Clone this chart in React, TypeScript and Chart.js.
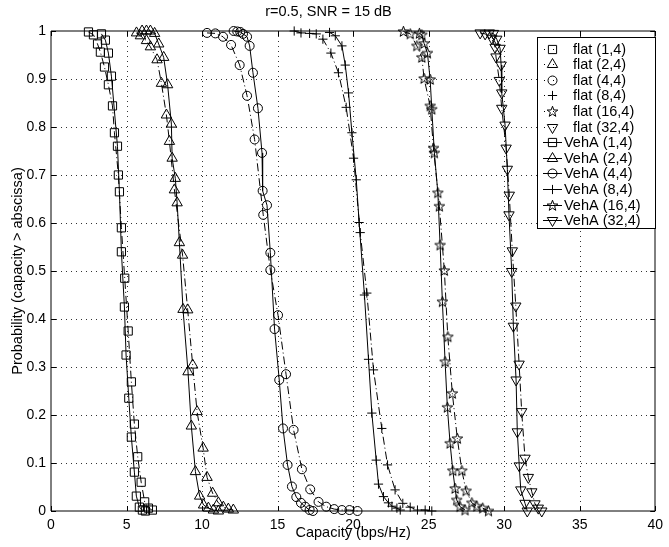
import React, { useEffect, useRef } from 'react';
import { Chart, registerables } from 'chart.js';

Chart.register(...registerables);

const titleText = 'r=0.5, SNR = 15 dB';
const xTitle = 'Capacity (bps/Hz)';
const yTitle = 'Probability (capacity > abscissa)';
const xTickLabels = ['0', '5', '10', '15', '20', '25', '30', '35', '40'];
const yTickLabels = ['0', '0.1', '0.2', '0.3', '0.4', '0.5', '0.6', '0.7', '0.8', '0.9', '1'];

const flatLabels = ['flat (1,4)', 'flat (2,4)', 'flat (4,4)', 'flat (8,4)', 'flat (16,4)', 'flat (32,4)'];
const vehLabels = ['VehA (1,4)', 'VehA (2,4)', 'VehA (4,4)', 'VehA (8,4)', 'VehA (16,4)', 'VehA (32,4)'];

// flat (1,4)
const flat1Cap = [2.48, 2.81, 3.08, 3.27, 3.54, 3.80, 4.07, 4.20, 4.46, 4.66, 4.88, 5.11, 5.32, 5.52, 5.74, 5.97, 6.20, 6.45, 6.71];
const flat1Prob = [0.998, 0.992, 0.973, 0.956, 0.925, 0.888, 0.844, 0.788, 0.700, 0.590, 0.485, 0.375, 0.269, 0.181, 0.113, 0.060, 0.019, 0.006, 0.002];
// VehA (1,4)
const veh1Cap = [3.34, 3.60, 3.80, 4.00, 4.40, 4.53, 4.66, 4.86, 4.97, 5.15, 5.32, 5.52, 5.65, 5.85, 6.05, 6.25];
const veh1Prob = [0.994, 0.981, 0.954, 0.906, 0.760, 0.665, 0.540, 0.425, 0.325, 0.235, 0.154, 0.081, 0.031, 0.008, 0.002, 0.0];

// flat (2,4)
const flat2Cap = [5.66, 5.92, 6.32, 6.58, 7.02, 7.31, 7.64, 7.84, 8.17, 8.71, 9.05, 9.38, 9.67, 10.07, 10.33, 10.70, 11.08, 11.41, 11.74, 12.07];
const flat2Prob = [0.996, 0.990, 0.980, 0.967, 0.940, 0.891, 0.825, 0.770, 0.669, 0.533, 0.419, 0.304, 0.207, 0.131, 0.070, 0.037, 0.017, 0.008, 0.004, 0.002];
// VehA (2,4)
const veh2Cap = [6.03, 6.32, 6.58, 6.86, 7.13, 7.46, 7.72, 7.97, 8.02, 8.23, 8.35, 8.50, 8.74, 9.07, 9.29, 9.56, 9.84, 10.10, 10.42, 10.75, 11.08];
const veh2Prob = [1.0, 1.0, 1.0, 0.995, 0.973, 0.945, 0.888, 0.806, 0.735, 0.693, 0.642, 0.559, 0.420, 0.290, 0.177, 0.082, 0.031, 0.0125, 0.006, 0.002, 0.0];

// flat (4,4)
const flat4Cap = [10.33, 10.88, 11.39, 11.92, 12.49, 12.98, 13.48, 14.05, 14.52, 15.03, 15.56, 16.06, 16.61, 17.16, 17.71, 18.22, 18.75, 19.26, 19.76, 20.29];
const flat4Prob = [0.996, 0.995, 0.988, 0.971, 0.929, 0.865, 0.774, 0.617, 0.502, 0.408, 0.285, 0.169, 0.087, 0.045, 0.019, 0.009, 0.004, 0.002, 0.002, 0.0];
// VehA (4,4)
const veh4Cap = [12.09, 12.33, 12.53, 12.71, 12.98, 13.15, 13.37, 13.70, 13.97, 14.01, 14.30, 14.52, 14.80, 15.11, 15.36, 15.66, 15.95, 16.24, 16.55, 16.83, 17.12, 17.34];
const veh4Prob = [1.0, 0.999, 0.998, 0.994, 0.988, 0.969, 0.913, 0.839, 0.746, 0.667, 0.637, 0.538, 0.379, 0.273, 0.172, 0.096, 0.051, 0.029, 0.017, 0.009, 0.002, 0.0];

// flat (8,4)
const flat8Cap = [16.10, 16.55, 17.12, 17.56, 18.00, 18.53, 19.03, 19.54, 20.03, 20.47, 20.91, 21.35, 21.90, 22.28, 22.78, 23.29, 23.78, 24.26, 24.77, 25.21];
const flat8Prob = [1.0, 0.996, 0.995, 0.994, 0.983, 0.954, 0.913, 0.841, 0.735, 0.580, 0.454, 0.294, 0.172, 0.096, 0.044, 0.016, 0.008, 0.002, 0.002, 0.0];
// VehA (8,4)
const veh8Cap = [18.44, 18.82, 19.26, 19.48, 19.70, 19.92, 20.21, 20.40, 20.75, 21.02, 21.24, 21.53, 21.68, 22.01, 22.34, 22.57, 22.90, 23.12];
const veh8Prob = [0.997, 0.990, 0.969, 0.929, 0.871, 0.788, 0.690, 0.601, 0.450, 0.316, 0.204, 0.106, 0.056, 0.030, 0.017, 0.010, 0.006, 0.002];

// flat (16,4)
const flat16Cap = [23.33, 23.78, 24.22, 24.55, 24.70, 25.10, 25.32, 25.71, 26.04, 26.27, 26.57, 26.90, 27.20, 27.48, 27.86, 28.19, 28.58, 28.96];
const flat16Prob = [0.999, 0.994, 0.969, 0.945, 0.901, 0.844, 0.756, 0.635, 0.501, 0.363, 0.245, 0.151, 0.084, 0.042, 0.017, 0.010, 0.006, 0.0];
// VehA (16,4)
const veh16Cap = [24.39, 24.55, 24.70, 24.92, 25.10, 25.21, 25.38, 25.61, 25.76, 25.91, 26.09, 26.24, 26.42, 26.60, 26.75, 26.86, 27.08, 27.41];
const veh16Prob = [0.995, 0.992, 0.974, 0.954, 0.899, 0.837, 0.746, 0.663, 0.554, 0.436, 0.311, 0.216, 0.141, 0.084, 0.047, 0.023, 0.009, 0.002];

// flat (32,4)
const flat32Cap = [28.41, 28.74, 29.18, 29.40, 29.46, 29.68, 29.84, 30.13, 30.34, 30.54, 30.77, 30.99, 31.16, 31.38, 31.60, 31.83, 32.04, 32.26, 32.49];
const flat32Prob = [0.996, 0.994, 0.985, 0.966, 0.946, 0.897, 0.839, 0.756, 0.658, 0.542, 0.427, 0.306, 0.207, 0.110, 0.070, 0.040, 0.015, 0.006, 0.0];
// VehA (32,4)
const veh32Cap = [29.02, 29.29, 29.51, 29.73, 29.80, 29.84, 30.06, 30.21, 30.32, 30.50, 30.61, 30.79, 30.87, 31.00, 31.10, 31.38, 31.53];
const veh32Prob = [0.996, 0.995, 0.983, 0.964, 0.929, 0.871, 0.804, 0.712, 0.617, 0.499, 0.385, 0.273, 0.165, 0.094, 0.044, 0.016, 0.0];

const flatCaps = [flat1Cap, flat2Cap, flat4Cap, flat8Cap, flat16Cap, flat32Cap];
const flatProbs = [flat1Prob, flat2Prob, flat4Prob, flat8Prob, flat16Prob, flat32Prob];
const vehCaps = [veh1Cap, veh2Cap, veh4Cap, veh8Cap, veh16Cap, veh32Cap];
const vehProbs = [veh1Prob, veh2Prob, veh4Prob, veh8Prob, veh16Prob, veh32Prob];

const markerKinds = ['rect', 'triangle', 'circle', 'cross', 'star', 'down'];
const markerRadius: Record<string, number> = { rect: 5.8, triangle: 6, circle: 4.5, cross: 4.6, star: 5, down: 6 };

const FONT = '"Liberation Sans", Arial, Helvetica, sans-serif';
const DASHDOT = [8, 3, 1, 3];

function makeStar(): HTMLCanvasElement {
  const c = document.createElement('canvas');
  c.width = 13;
  c.height = 13;
  const g = c.getContext('2d')!;
  const cx = 6.5, cy = 6.8, ro = 5.6, ri = 2.3;
  g.beginPath();
  for (let i = 0; i < 10; i++) {
    const r = i % 2 === 0 ? ro : ri;
    const a = -Math.PI / 2 + (i * Math.PI) / 5;
    const px = cx + r * Math.cos(a);
    const py = cy + r * Math.sin(a);
    if (i === 0) g.moveTo(px, py);
    else g.lineTo(px, py);
  }
  g.closePath();
  g.strokeStyle = '#000';
  g.lineWidth = 1;
  g.stroke();
  return c;
}

function drawMarker(ctx: CanvasRenderingContext2D, kind: string, x: number, y: number, star: HTMLCanvasElement) {
  const r = markerRadius[kind];
  ctx.save();
  ctx.strokeStyle = '#000';
  ctx.lineWidth = 1;
  ctx.setLineDash([]);
  ctx.beginPath();
  if (kind === 'rect') {
    const s = r * Math.SQRT1_2;
    ctx.rect(x - s, y - s, 2 * s, 2 * s);
  } else if (kind === 'circle') {
    ctx.arc(x, y, r, 0, Math.PI * 2);
  } else if (kind === 'triangle' || kind === 'down') {
    let rad = kind === 'down' ? Math.PI : 0;
    ctx.moveTo(x + Math.sin(rad) * r, y - Math.cos(rad) * r);
    rad += (2 * Math.PI) / 3;
    ctx.lineTo(x + Math.sin(rad) * r, y - Math.cos(rad) * r);
    rad += (2 * Math.PI) / 3;
    ctx.lineTo(x + Math.sin(rad) * r, y - Math.cos(rad) * r);
    ctx.closePath();
  } else if (kind === 'cross') {
    ctx.moveTo(x, y - r);
    ctx.lineTo(x, y + r);
    ctx.moveTo(x - r, y);
    ctx.lineTo(x + r, y);
  } else if (kind === 'star') {
    ctx.drawImage(star, x - star.width / 2, y - star.height / 2);
  }
  ctx.stroke();
  ctx.restore();
}

export default function App() {
  const ref = useRef<HTMLCanvasElement>(null);

  useEffect(() => {
    const canvas = ref.current!;
    const star = makeStar();

    const pointStyleFor = (k: string) => (k === 'star' ? star : k === 'down' ? 'triangle' : k);

    const makeDs = (label: string, caps: number[], probs: number[], k: string, dashed: boolean) => ({
      label,
      data: caps.map((c, i) => ({ x: c, y: probs[i] })),
      borderColor: '#000',
      backgroundColor: 'rgba(0,0,0,0)',
      borderWidth: 1,
      borderDash: dashed ? DASHDOT : [],
      pointStyle: pointStyleFor(k) as any,
      pointRotation: k === 'down' ? 180 : 0,
      pointRadius: markerRadius[k],
      pointBorderColor: '#000',
      pointBackgroundColor: 'rgba(0,0,0,0)',
      pointBorderWidth: 1,
      tension: 0,
      clip: false as any,
    });

    const datasets: any[] = [];
    for (let i = 0; i < 6; i++) datasets.push(makeDs(flatLabels[i], flatCaps[i], flatProbs[i], markerKinds[i], true));
    for (let i = 0; i < 6; i++) datasets.push(makeDs(vehLabels[i], vehCaps[i], vehProbs[i], markerKinds[i], false));

    const framePlugin = {
      id: 'matlabFrame',
      beforeDatasetsDraw(chart: any) {
        const { ctx, chartArea: a, scales } = chart;
        ctx.save();
        ctx.strokeStyle = 'rgba(0,0,0,0.8)';
        ctx.lineWidth = 1;
        ctx.setLineDash([1, 4]);
        for (let v = 5; v < 40; v += 5) {
          const px = Math.round(scales.x.getPixelForValue(v)) + 0.5;
          ctx.beginPath();
          ctx.moveTo(px, a.top);
          ctx.lineTo(px, a.bottom);
          ctx.stroke();
        }
        for (let i = 1; i < 10; i++) {
          const py = Math.round(scales.y.getPixelForValue(i / 10)) + 0.5;
          ctx.beginPath();
          ctx.moveTo(a.left, py);
          ctx.lineTo(a.right, py);
          ctx.stroke();
        }
        ctx.restore();
      },
      afterDatasetsDraw(chart: any) {
        const { ctx, chartArea: a, scales } = chart;
        ctx.save();
        ctx.strokeStyle = '#000';
        ctx.lineWidth = 1;
        ctx.setLineDash([]);
        const L = 5;
        ctx.beginPath();
        for (let v = 0; v <= 40; v += 5) {
          const px = Math.round(scales.x.getPixelForValue(v)) + 0.5;
          ctx.moveTo(px, a.bottom);
          ctx.lineTo(px, a.bottom - L);
          ctx.moveTo(px, a.top);
          ctx.lineTo(px, a.top + L);
        }
        for (let i = 0; i <= 10; i++) {
          const py = Math.round(scales.y.getPixelForValue(i / 10)) + 0.5;
          ctx.moveTo(a.left, py);
          ctx.lineTo(a.left + L, py);
          ctx.moveTo(a.right, py);
          ctx.lineTo(a.right - L, py);
        }
        ctx.stroke();
        ctx.beginPath();
        ctx.rect(Math.round(a.left), Math.round(a.top), Math.round(a.right - a.left), Math.round(a.bottom - a.top));
        ctx.stroke();
        ctx.restore();
      },
    };

    const legendPlugin = {
      id: 'matlabLegend',
      afterDraw(chart: any) {
        const { ctx } = chart;
        const bx = 537, by = 37, bw = 118, bh = 191;
        ctx.save();
        ctx.fillStyle = '#fff';
        ctx.fillRect(bx, by, bw, bh);
        ctx.strokeStyle = '#000';
        ctx.lineWidth = 1;
        ctx.setLineDash([]);
        ctx.strokeRect(bx + 0.5, by + 0.5, bw, bh);
        ctx.font = '14.5px ' + FONT;
        ctx.fillStyle = '#000';
        ctx.textBaseline = 'middle';
        ctx.textAlign = 'left';
        const rowY0 = 48.5, pitch = 15.6;
        const allLabels = [...flatLabels, ...vehLabels];
        allLabels.forEach((lab, i) => {
          const y = Math.round(rowY0 + i * pitch) + 0.5;
          const dashed = i < 6;
          const k = markerKinds[i % 6];
          ctx.save();
          ctx.strokeStyle = '#000';
          ctx.lineWidth = 1;
          ctx.setLineDash(dashed ? [1, 8] : []);
          ctx.beginPath();
          if (dashed) {
            ctx.moveTo(544, y);
            ctx.lineTo(562, y);
          } else {
            ctx.moveTo(543, y);
            ctx.lineTo(562, y);
          }
          ctx.stroke();
          ctx.restore();
          drawMarker(ctx, k, 552.5, y, star);
          ctx.fillText(lab, dashed ? 573 : 564, y);
        });
        ctx.restore();
      },
    };

    const chart = new Chart(canvas, {
      type: 'line',
      data: { datasets },
      options: {
        responsive: false,
        animation: false,
        devicePixelRatio: 1,
        layout: { padding: { left: 0, right: 12, top: 0, bottom: 0 } },
        plugins: {
          legend: { display: false },
          tooltip: { enabled: false },
          title: {
            display: true,
            text: titleText,
            color: '#000',
            font: { family: FONT, size: 14.5, weight: 'normal', lineHeight: 1.2 },
            padding: { top: 3, bottom: 10.6 },
          },
        },
        scales: {
          x: {
            type: 'linear',
            min: 0,
            max: 40,
            grid: { display: false, drawTicks: false },
            border: { display: false },
            ticks: {
              stepSize: 5,
              autoSkip: false,
              maxRotation: 0,
              padding: 6,
              color: '#000',
              font: { family: FONT, size: 14 },
              callback: (_v: any, i: number) => xTickLabels[i],
            },
            title: {
              display: true,
              text: xTitle,
              color: '#000',
              font: { family: FONT, size: 14.5, lineHeight: 1.2 },
              padding: { top: 0, bottom: 5.3 },
            },
            afterFit: (s: any) => {
              s.height = 36;
            },
          },
          y: {
            type: 'linear',
            min: 0,
            max: 1,
            grid: { display: false, drawTicks: false },
            border: { display: false },
            ticks: {
              stepSize: 0.1,
              autoSkip: false,
              padding: 5,
              color: '#000',
              font: { family: FONT, size: 14 },
              callback: (_v: any, i: number) => yTickLabels[i],
            },
            title: {
              display: true,
              text: yTitle,
              color: '#000',
              font: { family: FONT, size: 14.5, lineHeight: 1.2 },
              padding: { top: 9.3, bottom: 0 },
            },
            afterFit: (s: any) => {
              s.width = 51;
            },
          },
        },
      } as any,
      plugins: [framePlugin, legendPlugin],
    });

    return () => chart.destroy();
  }, []);

  return (
    <div style={{ position: 'fixed', left: 0, top: 0, width: 669, height: 547, background: '#fff' }}>
      <canvas ref={ref} width={669} height={547} style={{ display: 'block' }} />
    </div>
  );
}
